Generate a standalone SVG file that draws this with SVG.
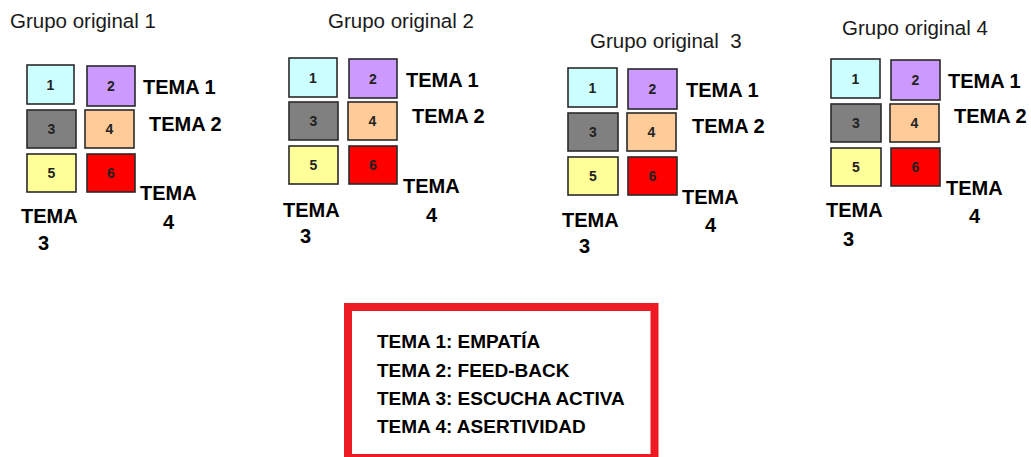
<svg xmlns="http://www.w3.org/2000/svg" width="1031" height="457" viewBox="0 0 1031 457">
<style>
.title{font-family:"Liberation Sans",Arial,sans-serif;font-size:20.5px;fill:#1a1a1a}
.tema{font-family:"Liberation Sans",Arial,sans-serif;font-size:20px;font-weight:bold;fill:#000}
.num{font-family:"Liberation Sans",Arial,sans-serif;font-size:14px;font-weight:bold;fill:#222;text-anchor:middle}
.box{stroke:#2a2a2a;stroke-width:1.6}
.c1{fill:#CCFFFF}.c2{fill:#CC99FF}.c3{fill:#808080}.c4{fill:#FFCC99}.c5{fill:#FFFF99}.c6{fill:#FF0000}
.leg{font-family:"Liberation Sans",Arial,sans-serif;font-size:19px;font-weight:bold;fill:#000}
</style>
<rect width="1031" height="457" fill="#fff"/>

<g id="grupo1">
<text class="title" x="10" y="28">Grupo original 1</text>
<rect class="box c1" x="27" y="65" width="47" height="39"/><text class="num" x="50.5" y="90">1</text>
<rect class="box c2" x="87" y="66" width="48" height="40"/><text class="num" x="111" y="91">2</text>
<rect class="box c3" x="27" y="110" width="49" height="38"/><text class="num" x="51.5" y="134">3</text>
<rect class="box c4" x="85" y="110" width="49" height="38"/><text class="num" x="109.5" y="134">4</text>
<rect class="box c5" x="27" y="154" width="49" height="38"/><text class="num" x="51.5" y="178">5</text>
<rect class="box c6" x="87" y="154" width="48" height="38"/><text class="num" x="111" y="178">6</text>
<text class="tema" x="143" y="94">TEMA 1</text>
<text class="tema" x="149" y="131">TEMA 2</text>
<text class="tema" x="140" y="200">TEMA</text>
<text class="tema" x="163" y="229">4</text>
<text class="tema" x="21" y="223">TEMA</text>
<text class="tema" x="38" y="250">3</text>
</g>

<g id="grupo2">
<text class="title" x="328" y="28">Grupo original 2</text>
<rect class="box c1" x="289" y="58" width="48" height="39"/><text class="num" x="313" y="83">1</text>
<rect class="box c2" x="349" y="59" width="48" height="39"/><text class="num" x="373" y="84">2</text>
<rect class="box c3" x="289" y="102" width="49" height="38"/><text class="num" x="313.5" y="126">3</text>
<rect class="box c4" x="348" y="102" width="49" height="38"/><text class="num" x="372.5" y="126">4</text>
<rect class="box c5" x="289" y="146" width="49" height="38"/><text class="num" x="313.5" y="170">5</text>
<rect class="box c6" x="349" y="146" width="48" height="38"/><text class="num" x="373" y="170">6</text>
<text class="tema" x="406" y="87">TEMA 1</text>
<text class="tema" x="412" y="123">TEMA 2</text>
<text class="tema" x="403" y="193">TEMA</text>
<text class="tema" x="426" y="222">4</text>
<text class="tema" x="283" y="217">TEMA</text>
<text class="tema" x="300" y="243">3</text>
</g>

<g id="grupo3">
<text class="title" x="590" y="48" xml:space="preserve">Grupo original  3</text>
<rect class="box c1" x="568" y="68" width="49" height="39"/><text class="num" x="592.5" y="93">1</text>
<rect class="box c2" x="628" y="69" width="49" height="40"/><text class="num" x="652.5" y="94">2</text>
<rect class="box c3" x="568" y="113" width="50" height="38"/><text class="num" x="593" y="137">3</text>
<rect class="box c4" x="627" y="113" width="49" height="38"/><text class="num" x="651.5" y="137">4</text>
<rect class="box c5" x="568" y="157" width="50" height="38"/><text class="num" x="593" y="181">5</text>
<rect class="box c6" x="628" y="157" width="49" height="38"/><text class="num" x="652.5" y="181">6</text>
<text class="tema" x="686" y="97">TEMA 1</text>
<text class="tema" x="692" y="133">TEMA 2</text>
<text class="tema" x="682" y="204">TEMA</text>
<text class="tema" x="705" y="232">4</text>
<text class="tema" x="562" y="227">TEMA</text>
<text class="tema" x="579" y="253">3</text>
</g>

<g id="grupo4">
<text class="title" x="842" y="35">Grupo original 4</text>
<rect class="box c1" x="831" y="59" width="49" height="39"/><text class="num" x="855.5" y="84">1</text>
<rect class="box c2" x="891" y="60" width="49" height="40"/><text class="num" x="915.5" y="85">2</text>
<rect class="box c3" x="831" y="104" width="50" height="38"/><text class="num" x="856" y="128">3</text>
<rect class="box c4" x="890" y="104" width="49" height="38"/><text class="num" x="914.5" y="128">4</text>
<rect class="box c5" x="831" y="148" width="50" height="38"/><text class="num" x="856" y="172">5</text>
<rect class="box c6" x="891" y="148" width="49" height="38"/><text class="num" x="915.5" y="172">6</text>
<text class="tema" x="948" y="88">TEMA 1</text>
<text class="tema" x="954" y="123">TEMA 2</text>
<text class="tema" x="946" y="195">TEMA</text>
<text class="tema" x="969" y="223">4</text>
<text class="tema" x="826" y="217">TEMA</text>
<text class="tema" x="843" y="246">3</text>
</g>

<g id="leyenda">
<rect x="348" y="307" width="306.5" height="151" fill="#fff" stroke="#ED1C24" stroke-width="8"/>
<text class="leg" x="377" y="348">TEMA 1: EMPATÍA</text>
<text class="leg" x="377" y="377">TEMA 2: FEED-BACK</text>
<text class="leg" x="377" y="405">TEMA 3: ESCUCHA ACTIVA</text>
<text class="leg" x="377" y="433">TEMA 4: ASERTIVIDAD</text>
</g>

<g id="connectors"></g>
</svg>
